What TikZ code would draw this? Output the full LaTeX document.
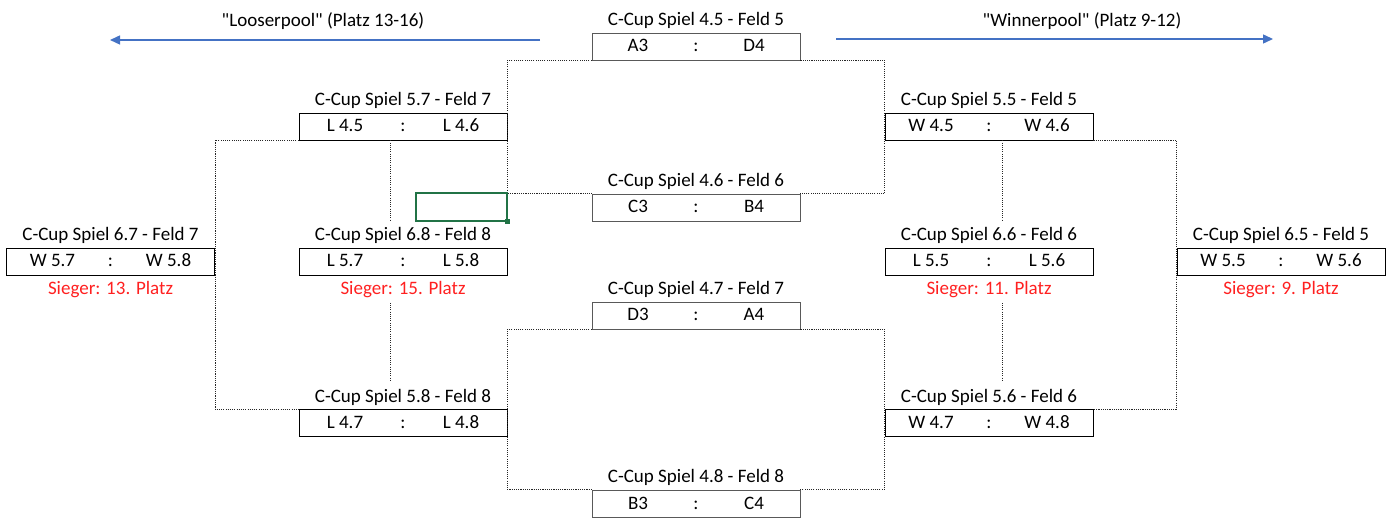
\documentclass[tikz,border=0pt]{standalone}
\usepackage{fontspec}
\setmainfont{Carlito}
\usetikzlibrary{arrows.meta}
\definecolor{poolblue}{HTML}{4472C4}
\definecolor{xlgreen}{HTML}{217346}
\definecolor{siegred}{HTML}{FF2020}
\newcommand\mtch[2]{\makebox[208pt][c]{\makebox[116pt][c]{#1}\makebox[0pt][c]{:}\makebox[116pt][c]{#2}}}
\tikzset{
  every node/.style={font=\fontsize{19pt}{23pt}\selectfont},
  matchbox/.style={draw=black, line width=0.8pt, minimum width=208pt, minimum height=27pt, inner sep=0pt, text height=14pt, text depth=3pt},
  firstbox/.style={matchbox, draw=black!65},
  ttl/.style={minimum height=27pt, inner sep=0pt, text height=14pt, text depth=3pt},
  boxttl/.style={ttl, anchor=south, yshift=-1.5pt},
  siegtxt/.style={ttl, text=siegred, anchor=north},
  conn/.style={draw=black!85, line width=0.8pt, dash pattern=on 1.1pt off 1.1pt},
  pool/.style={draw=poolblue, line width=1.4pt, -{Triangle[length=10pt,width=9pt]}},
  selcell/.style={draw=xlgreen, line width=1.8pt, minimum width=91pt, minimum height=28pt, inner sep=0pt},
  selhandle/.style={fill=xlgreen, minimum size=5pt, inner sep=0pt}
}
\begin{document}
\begin{tikzpicture}[x=1pt,y=-1pt]
\useasboundingbox (0,0) rectangle (1395,518);

% pool arrows
\node[ttl] (lp) at (323,21) {\textquotedbl Looserpool\textquotedbl{} (Platz 13-16)};
\node[ttl] (wp) at (1082,21) {\textquotedbl Winnerpool\textquotedbl{} (Platz 9-12)};
\coordinate (la1) at (540,40);
\coordinate (la2) at (110,40);
\coordinate (wa1) at (836,39);
\coordinate (wa2) at (1273,39);
\draw[pool] (la1) -- (la2);
\draw[pool] (wa1) -- (wa2);

% round 4 boxes
\node[firstbox] (b45) at (696,46.5) {\mtch{A3}{D4}};
\node[firstbox] (b46) at (696,207.5) {\mtch{C3}{B4}};
\node[firstbox] (b47) at (696,315.5) {\mtch{D3}{A4}};
\node[firstbox] (b48) at (696,503.5) {\mtch{B3}{C4}};
% round 5 / 6 boxes
\node[matchbox] (b57) at (403,126.5) {\mtch{L 4.5}{L 4.6}};
\node[matchbox] (b58) at (403,423) {\mtch{L 4.7}{L 4.8}};
\node[matchbox] (b68) at (403,261.5) {\mtch{L 5.7}{L 5.8}};
\node[matchbox] (b67) at (110.5,261.5) {\mtch{W 5.7}{W 5.8}};
\node[matchbox] (b55) at (989,126.5) {\mtch{W 4.5}{W 4.6}};
\node[matchbox] (b56) at (989,423) {\mtch{W 4.7}{W 4.8}};
\node[matchbox] (b66) at (989,261.5) {\mtch{L 5.5}{L 5.6}};
\node[matchbox] (b65) at (1281,261.5) {\mtch{W 5.5}{W 5.6}};

% titles
\node[boxttl] (t45) at (b45.north) {C-Cup Spiel 4.5 - Feld 5};
\node[boxttl] (t46) at (b46.north) {C-Cup Spiel 4.6 - Feld 6};
\node[boxttl] (t47) at (b47.north) {C-Cup Spiel 4.7 - Feld 7};
\node[boxttl] (t48) at (b48.north) {C-Cup Spiel 4.8 - Feld 8};
\node[boxttl] (t57) at (b57.north) {C-Cup Spiel 5.7 - Feld 7};
\node[boxttl] (t58) at (b58.north) {C-Cup Spiel 5.8 - Feld 8};
\node[boxttl] (t68) at (b68.north) {C-Cup Spiel 6.8 - Feld 8};
\node[boxttl] (t67) at (b67.north) {C-Cup Spiel 6.7 - Feld 7};
\node[boxttl] (t55) at (b55.north) {C-Cup Spiel 5.5 - Feld 5};
\node[boxttl] (t56) at (b56.north) {C-Cup Spiel 5.6 - Feld 6};
\node[boxttl] (t66) at (b66.north) {C-Cup Spiel 6.6 - Feld 6};
\node[boxttl] (t65) at (b65.north) {C-Cup Spiel 6.5 - Feld 5};

% winners
\node[siegtxt] (r67) at (b67.south) {Sieger: 13. Platz};
\node[siegtxt] (r68) at (b68.south) {Sieger: 15. Platz};
\node[siegtxt] (r66) at (b66.south) {Sieger: 11. Platz};
\node[siegtxt] (r65) at (b65.south) {Sieger: 9. Platz};

% connectors round 4 -> round 5
\draw[conn] (b45.south west) -- (b45.south west -| b57.east) -- (b46.north west -| b57.east) -- (b46.north west);
\draw[conn] (b45.south east) -- (b45.south east -| b55.west) -- (b46.north east -| b55.west) -- (b46.north east);
\draw[conn] (b47.south west) -- (b47.south west -| b58.east) -- (b48.north west -| b58.east) -- (b48.north west);
\draw[conn] (b47.south east) -- (b47.south east -| b56.west) -- (b48.north east -| b56.west) -- (b48.north east);
% connectors round 5 -> round 6
\draw[conn] (b57.south west) -- (b57.south west -| b67.east) -- (b58.north west -| b67.east) -- (b58.north west);
\draw[conn] (b55.south east) -- (b55.south east -| b65.west) -- (b56.north east -| b65.west) -- (b56.north east);
\draw[conn] ([xshift=-13pt]b57.south) -- ([xshift=-13pt,yshift=1.5pt]t68.north);
\draw[conn] ([xshift=-13pt]r68.south) -- ([xshift=-13pt,yshift=1.5pt]t58.north);
\draw[conn] ([xshift=13pt]b55.south) -- ([xshift=13pt,yshift=1.5pt]t66.north);
\draw[conn] ([xshift=13pt]r66.south) -- ([xshift=13pt,yshift=1.5pt]t56.north);

% selected cell
\node[selcell] (sel) at (461.5,207) {};
\node[selhandle] (selh) at (sel.south east) {};
\end{tikzpicture}
\end{document}
